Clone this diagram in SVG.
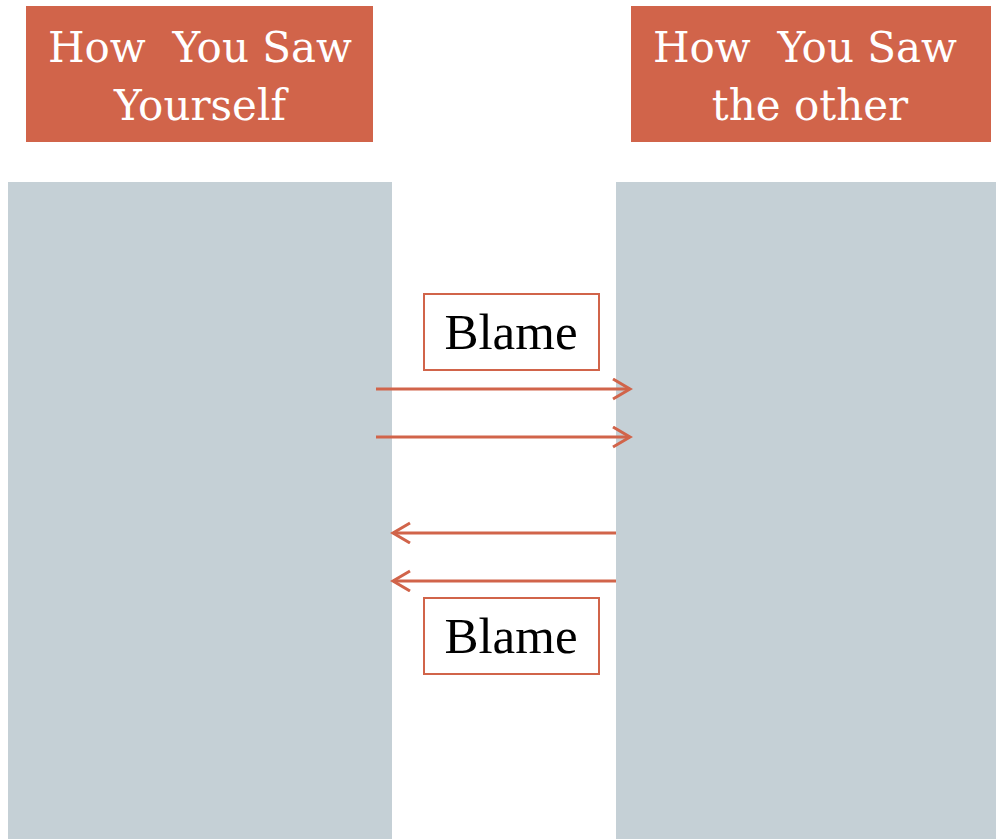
<svg xmlns="http://www.w3.org/2000/svg" width="996" height="839" viewBox="0 0 996 839">
  <defs>
    <style>
      .head { fill: #D1644A; }
      .head-text { font-family: "DejaVu Serif", "Liberation Serif", serif; font-size: 42px; fill: #FFFFFF; text-anchor: middle; }
      .panel { fill: #C5D0D6; }
      .label-box { fill: #FFFFFF; stroke: #D1644A; stroke-width: 2; }
      .label-text { font-family: "Liberation Serif", "Times New Roman", serif; font-size: 51px; fill: #000000; text-anchor: middle; }
      .arrow { stroke: #D1644A; stroke-width: 3; fill: none; }
    </style>
    <marker id="chevron" markerUnits="userSpaceOnUse" markerWidth="24" markerHeight="24" refX="18" refY="11" orient="auto">
      <polyline points="1,1 18,11 1,21" fill="none" stroke="#D1644A" stroke-width="3"/>
    </marker>
  </defs>

  <rect width="996" height="839" fill="#FFFFFF"/>

  <!-- side panels -->
  <g id="panel-self">
    <rect class="panel" x="8" y="182" width="384" height="657"/>
  </g>
  <g id="panel-other">
    <rect class="panel" x="616" y="182" width="380" height="657"/>
  </g>

  <!-- column headings -->
  <g id="head-self">
    <rect class="head" x="26" y="6" width="347" height="136"/>
    <text class="head-text" x="200" y="62" xml:space="preserve">How  You Saw</text>
    <text class="head-text" x="200" y="120">Yourself</text>
  </g>
  <g id="head-other">
    <rect class="head" x="631" y="6" width="360" height="136"/>
    <text class="head-text" x="805" y="62" xml:space="preserve">How  You Saw</text>
    <text class="head-text" x="810" y="120">the other</text>
  </g>

  <!-- blame labels -->
  <g id="blame-top">
    <rect class="label-box" x="424" y="294" width="175" height="76"/>
    <text class="label-text" x="511" y="349">Blame</text>
  </g>
  <g id="blame-bottom">
    <rect class="label-box" x="424" y="598" width="175" height="76"/>
    <text class="label-text" x="511" y="653">Blame</text>
  </g>

  <!-- arrows between the panels -->
  <g id="connectors">
    <line class="arrow" x1="376" y1="389" x2="630" y2="389" marker-end="url(#chevron)"/>
    <line class="arrow" x1="376" y1="437" x2="630" y2="437" marker-end="url(#chevron)"/>
    <line class="arrow" x1="616" y1="533" x2="393" y2="533" marker-end="url(#chevron)"/>
    <line class="arrow" x1="616" y1="581" x2="393" y2="581" marker-end="url(#chevron)"/>
  </g>
</svg>
